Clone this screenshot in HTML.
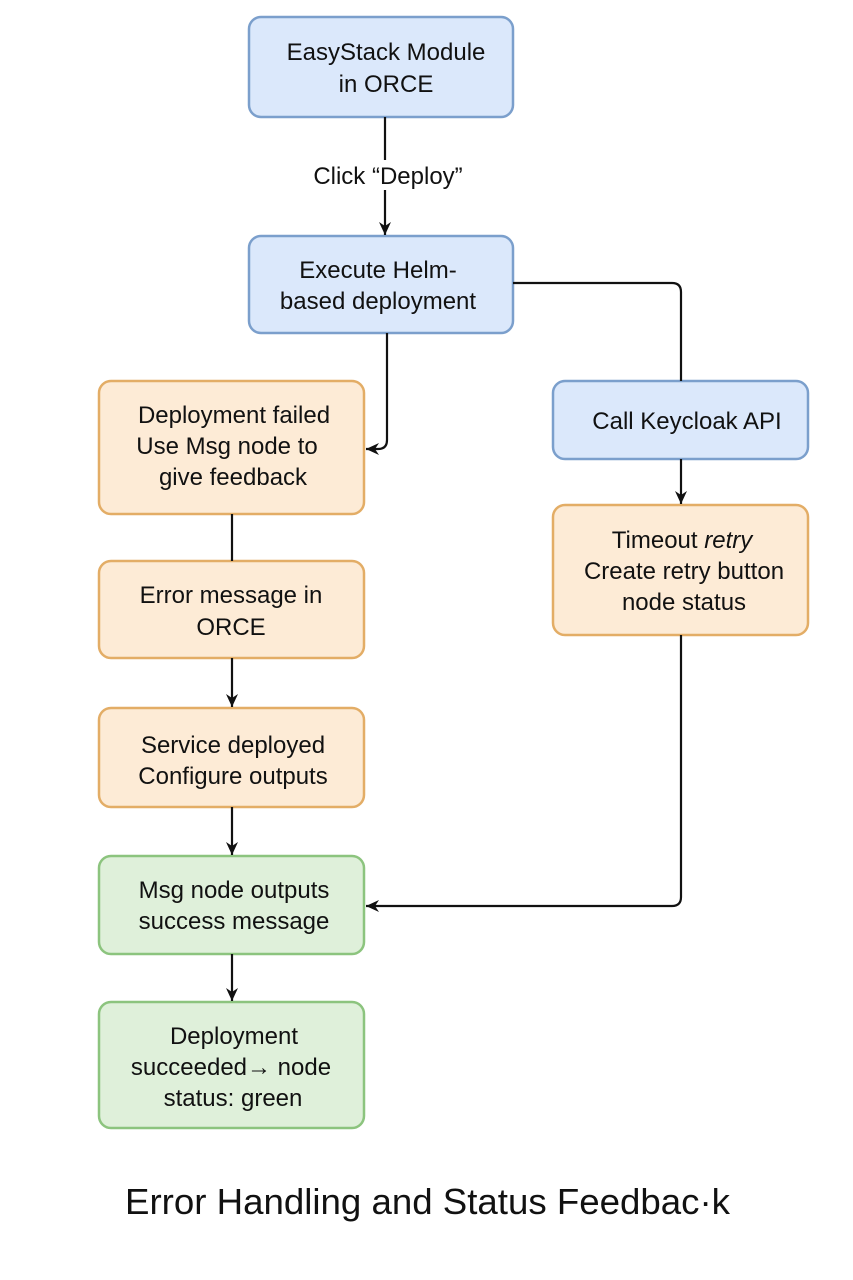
<!DOCTYPE html>
<html><head><meta charset="utf-8"><style>
html,body{margin:0;padding:0;background:#fff;}
svg{display:block;}
text{font-family:"Liberation Sans",Arial,sans-serif;fill:#111;}
</style></head><body>
<svg width="853" height="1280" viewBox="0 0 853 1280" xmlns="http://www.w3.org/2000/svg">
<defs>
<marker id="a" markerWidth="14" markerHeight="14" refX="13" refY="6" orient="auto" markerUnits="userSpaceOnUse">
<path d="M0,0 L13,6 L0,12 L4,6 z" fill="#111"/>
</marker>
</defs>
<rect width="853" height="1280" fill="#fff"/>
<g stroke-width="2.5">
<rect x="249" y="17" width="264" height="100" rx="12" fill="#dbe8fb" stroke="#7b9fcc"/>
<rect x="249" y="236" width="264" height="97" rx="12" fill="#dbe8fb" stroke="#7b9fcc"/>
<rect x="553" y="381" width="255" height="78" rx="12" fill="#dbe8fb" stroke="#7b9fcc"/>
<rect x="99" y="381" width="265" height="133" rx="12" fill="#fdebd6" stroke="#e3ad66"/>
<rect x="99" y="561" width="265" height="97" rx="12" fill="#fdebd6" stroke="#e3ad66"/>
<rect x="99" y="708" width="265" height="99" rx="12" fill="#fdebd6" stroke="#e3ad66"/>
<rect x="553" y="505" width="255" height="130" rx="12" fill="#fdebd6" stroke="#e3ad66"/>
<rect x="99" y="856" width="265" height="98" rx="12" fill="#dff0da" stroke="#8cc47e"/>
<rect x="99" y="1002" width="265" height="126" rx="12" fill="#dff0da" stroke="#8cc47e"/>
</g>
<g stroke="#111" stroke-width="2.2" fill="none">
<line x1="385" y1="117" x2="385" y2="235" marker-end="url(#a)"/>
<path d="M387,333 L387,440 Q387,449 378,449 L366,449" marker-end="url(#a)"/>
<path d="M513,283 L672,283 Q681,283 681,292 L681,381"/>
<line x1="681" y1="459" x2="681" y2="504" marker-end="url(#a)"/>
<path d="M681,635 L681,897 Q681,906 672,906 L366,906" marker-end="url(#a)"/>
<line x1="232" y1="514" x2="232" y2="561"/>
<line x1="232" y1="658" x2="232" y2="707" marker-end="url(#a)"/>
<line x1="232" y1="807" x2="232" y2="855" marker-end="url(#a)"/>
<line x1="232" y1="954" x2="232" y2="1001" marker-end="url(#a)"/>
</g>
<rect x="303" y="160" width="170" height="30" fill="#fff"/>
<g font-size="24" text-anchor="middle">
<text x="388" y="184">Click “Deploy”</text>
<text x="386" y="60">EasyStack Module</text>
<text x="386" y="92">in ORCE</text>
<text x="378" y="278">Execute Helm-</text>
<text x="378" y="309">based deployment</text>
<text x="687" y="429">Call Keycloak API</text>
<text x="234" y="423">Deployment failed</text>
<text x="227" y="454">Use Msg node to</text>
<text x="233" y="485">give feedback</text>
<text x="231" y="603">Error message in</text>
<text x="231" y="635">ORCE</text>
<text x="233" y="753">Service deployed</text>
<text x="233" y="784">Configure outputs</text>
<text x="682" y="548">Timeout <tspan font-style="italic">retry</tspan></text>
<text x="684" y="579">Create retry button</text>
<text x="684" y="610">node status</text>
<text x="234" y="898">Msg node outputs</text>
<text x="234" y="929">success message</text>
<text x="234" y="1044">Deployment</text>
<text x="231" y="1075">succeeded→ node</text>
<text x="233" y="1106">status: green</text>
</g>
<text x="125" y="1214" font-size="36" textLength="605" lengthAdjust="spacingAndGlyphs">Error Handling and Status Feedbac·k</text>
</svg>
</body></html>
